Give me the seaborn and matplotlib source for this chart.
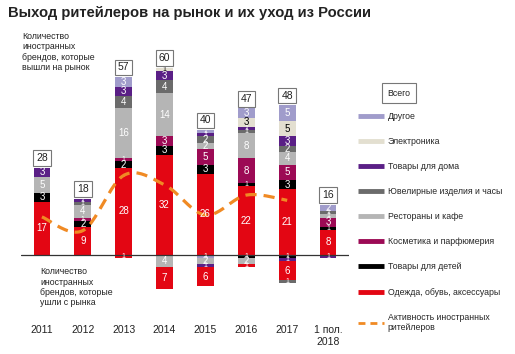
import numpy as np
import pandas as pd
import matplotlib
matplotlib.use("Agg")
import matplotlib.pyplot as plt
from matplotlib.lines import Line2D
import seaborn as sns

# Годы (подписи оси)
years = ["2011", "2012", "2013", "2014", "2015", "2016", "2017", "1 пол.\n2018"]

# Пришли на рынок (положительные значения)
clothing = [17, 9, 28, 32, 26, 22, 21, 8]
kids = [3, 2, 2, 3, 3, 1, 3, 1]
cosmetics = [0, 1, 1, 3, 5, 8, 5, 3]
restaurants = [5, 4, 16, 14, 2, 8, 4, 1]
jewelry = [0, 1, 4, 4, 2, 1, 2, 1]
home = [3, 1, 3, 3, 1, 1, 3, 0]
electronics = [0, 0, 0, 1, 0, 3, 5, 0]
other = [0, 0, 3, 0, 1, 3, 5, 2]

# Ушли с рынка
neg_kids = [0, 0, 0, 0, 0, 1, 1, 0]
neg_other = [0, 0, 0, 0, 1, 0, 0, 0]
neg_restaurants = [0, 0, 0, 4, 2, 2, 0, 0]
neg_home = [0, 0, 0, 0, 1, 0, 1, 1]
neg_clothing = [0, 0, 1, 7, 6, 1, 6, 0]
neg_jewelry = [0, 0, 0, 0, 0, 0, 1, 0]

# Активность иностранных ритейлеров (2011-2017)
activity = [12.2, 7.8, 25.5, 22.5, 12.8, 19.2, 17.5]

names = ["Одежда, обувь, аксессуары", "Товары для детей", "Косметика и парфюмерия",
         "Рестораны и кафе", "Ювелирные изделия и часы", "Товары для дома",
         "Электроника", "Другое"]
colors = ["#E30613", "#000000", "#9C0A55", "#B5B5B5", "#6B6B6B", "#5A1F86",
          "#E3DFD0", "#A09CCB"]
text_colors = ["white"] * 6 + ["black", "white"]
pos_layers = [clothing, kids, cosmetics, restaurants, jewelry, home, electronics, other]
neg_layers = [(neg_kids, 1), (neg_other, 7), (neg_restaurants, 3), (neg_home, 5),
              (neg_clothing, 0), (neg_jewelry, 4)]
line_color = "#F08A24"

sns.set_theme(style="white")
plt.rcParams["font.family"] = ["Liberation Sans", "DejaVu Sans"]

fig = plt.figure(figsize=(5.15, 3.54), dpi=100)
ax = fig.add_axes([0.0417, 0.0859, 0.635, 0.8107])

x = np.arange(len(years))
w = 0.41


def label(xi, ymid, v, color):
    fs = 7 if v >= 2 else 5
    ax.text(xi, ymid, str(v), ha="center", va="center", color=color, fontsize=fs)


bottom = np.zeros(len(years))
for vals, c, tc in zip(pos_layers, colors, text_colors):
    vals = np.array(vals, dtype=float)
    ax.bar(x, vals, w, bottom=bottom, color=c, linewidth=0)
    for i, v in enumerate(vals):
        if v > 0:
            label(x[i], bottom[i] + v / 2, int(v), tc)
    bottom += vals
totals = bottom.copy()

nbottom = np.zeros(len(years))
for vals, ci in neg_layers:
    vals = -np.array(vals, dtype=float)
    ax.bar(x, vals, w, bottom=nbottom, color=colors[ci], linewidth=0)
    for i, v in enumerate(vals):
        if v < 0:
            label(x[i], nbottom[i] + v / 2, int(-v), text_colors[ci])
    nbottom += vals

for i, t in enumerate(totals):
    ax.annotate(f"{int(t)}", (x[i], t), xytext=(0, 7), textcoords="offset points",
                ha="center", va="center", fontsize=7.5, color="#222",
                bbox=dict(boxstyle="square,pad=0.28", fc="white", ec="#777", lw=0.8))


# сглаженная линия активности (Catmull-Rom)
def catmull(xs, ys, n=24):
    p = np.column_stack([xs, ys]).astype(float)
    p = np.vstack([p[0], p, p[-1]])
    out = []
    for k in range(1, len(p) - 2):
        p0, p1, p2, p3 = p[k - 1], p[k], p[k + 1], p[k + 2]
        t = np.linspace(0, 1, n)[:, None]
        seg = 0.5 * ((2 * p1) + (-p0 + p2) * t + (2 * p0 - 5 * p1 + 4 * p2 - p3) * t ** 2
                     + (-p0 + 3 * p1 - 3 * p2 + p3) * t ** 3)
        out.append(seg)
    return np.vstack(out)


curve = catmull(x[:len(activity)], activity)
sns.lineplot(x=curve[:, 0], y=curve[:, 1], ax=ax, color=line_color, lw=2.3,
             sort=False, estimator=None)
ax.lines[-1].set_dashes([3.5, 2.2])

ax.axhline(0, color="#333333", lw=0.9)
ax.set_xlim(-0.5, 7.5)
ax.set_ylim(-22, 70)
ax.set_xticks(x)
ax.set_xticklabels(years, fontsize=7.5, color="#222")
ax.tick_params(axis="x", length=0, pad=1)
ax.set_yticks([])
for s in ax.spines.values():
    s.set_visible(False)

fig.text(0.016, 0.963, "Выход ритейлеров на рынок и их уход из России",
         fontsize=10.6, fontweight="bold", color="#222", va="center")
fig.text(0.043, 0.91, "Количество\nиностранных\nбрендов, которые\nвышли на рынок",
         fontsize=6.3, color="#222", va="top", linespacing=1.2)
fig.text(0.078, 0.245, "Количество\nиностранных\nбрендов, которые\nушли с рынка",
         fontsize=6.3, color="#222", va="top", linespacing=1.2)
fig.text(0.775, 0.737, "Всего", fontsize=6.3, color="#222", ha="center", va="center",
         bbox=dict(boxstyle="square,pad=0.6", fc="white", ec="#777", lw=0.8))

handles = [Line2D([], [], color=c, lw=3.5, solid_capstyle="butt") for c in colors[::-1]]
handles.append(Line2D([], [], color=line_color, lw=2, dashes=[2.5, 1.8]))
labels = names[::-1] + ["Активность иностранных\nритейлеров"]
fig.legend(handles, labels, loc="upper left", bbox_to_anchor=(0.695, 0.684),
           frameon=False, fontsize=6.3, handlelength=3.0, handletextpad=0.4,
           labelspacing=1.84, borderpad=0, borderaxespad=0)

fig.savefig("out.png", dpi=100, facecolor="white")
